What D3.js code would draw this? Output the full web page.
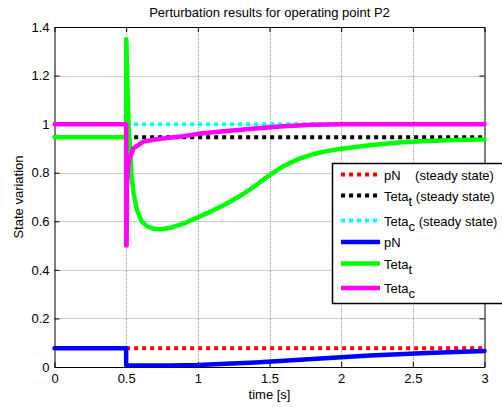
<!DOCTYPE html>
<html><head><meta charset="utf-8">
<script src="https://cdn.jsdelivr.net/npm/d3@7"></script>
<style>
html,body{margin:0;padding:0;background:#fff;}
text{font-family:"Liberation Sans",Arial,sans-serif;fill:#000;}
</style></head>
<body><svg id="c" width="502" height="407"></svg>
<script>
// ---- data ----
const title = "Perturbation results for operating point P2";
const xLabel = "time [s]";
const yLabel = "State variation";
const xTicks = [0, 0.5, 1, 1.5, 2, 2.5, 3];
const yTicks = [0, 0.2, 0.4, 0.6, 0.8, 1, 1.2, 1.4];
const xTickLabels = ["0", "0.5", "1", "1.5", "2", "2.5", "3"];
const yTickLabels = ["0", "0.2", "0.4", "0.6", "0.8", "1", "1.2", "1.4"];

// steady state values (from t = 0.5 to 3)
const steadyT = [0.5, 3];
const steadyPN = [0.077, 0.077];
const steadyTetaT = [0.946, 0.946];
const steadyTetaC = [1.0, 1.0];

// pN
const pnT = [0, 0.5, 0.5, 0.6, 0.8, 1.0, 1.2, 1.4, 1.6, 1.8, 2.0, 2.2, 2.4, 2.6, 2.8, 3.0];
const pnV = [0.077, 0.077, 0.007, 0.006, 0.006, 0.008, 0.013, 0.019, 0.026, 0.033, 0.040, 0.047, 0.053, 0.058, 0.062, 0.066];

// Teta_t
const ttT = [0, 0.5, 0.501, 0.51, 0.517, 0.529, 0.536, 0.552, 0.575, 0.61, 0.65, 0.7, 0.75, 0.8, 0.9, 1.0, 1.1, 1.2, 1.3, 1.4, 1.5, 1.6, 1.7, 1.8, 1.9, 2.0, 2.2, 2.4, 2.6, 2.8, 3.0];
const ttV = [0.946, 0.946, 1.35, 1.13, 0.99, 0.88, 0.80, 0.715, 0.646, 0.598, 0.578, 0.568, 0.567, 0.572, 0.59, 0.616, 0.643, 0.672, 0.706, 0.746, 0.79, 0.828, 0.856, 0.876, 0.889, 0.899, 0.913, 0.924, 0.931, 0.935, 0.937];

// Teta_c
const tcT = [0, 0.5, 0.5, 0.503, 0.506, 0.515, 0.529, 0.55, 0.62, 0.7, 0.8, 0.9, 1.0, 1.2, 1.4, 1.6, 1.8, 2.0, 3.0];
const tcV = [1.0, 1.0, 0.5, 0.5, 0.75, 0.84, 0.866, 0.90, 0.928, 0.937, 0.944, 0.95, 0.96, 0.972, 0.982, 0.991, 0.997, 1.0, 1.0];

const legendNames = [["pN", "", "    (steady state)"], ["Teta", "t", " (steady state)"], ["Teta", "c", " (steady state)"], ["pN", "", ""], ["Teta", "t", ""], ["Teta", "c", ""]];
const colors = ["#ff0000", "#000000", "#00ffff", "#0000ff", "#00ff00", "#ff00ff"];

// ---- drawing ----
const svg = d3.select("#c");
const L = 54.5, R = 484.5, T = 27, B = 367;
const x = d3.scaleLinear().domain([0, 3]).range([L, R]);
const y = d3.scaleLinear().domain([0, 1.4]).range([B, T]);

// grid
const g = svg.append("g");
g.selectAll(".gx").data(xTicks.slice(1, -1)).join("line")
  .attr("x1", d => Math.round(x(d)) + 0.5).attr("x2", d => Math.round(x(d)) + 0.5)
  .attr("y1", T).attr("y2", B).attr("stroke", "#999").attr("stroke-width", 1).attr("stroke-dasharray", "1,1");
g.selectAll(".gy").data(yTicks.slice(1, -1)).join("line")
  .attr("y1", d => Math.round(y(d)) + 0.5).attr("y2", d => Math.round(y(d)) + 0.5)
  .attr("x1", L).attr("x2", R).attr("stroke", "#999").attr("stroke-width", 1).attr("stroke-dasharray", "1,1");

// axes with inward ticks
const axB = d3.axisBottom(x).tickValues(xTicks).tickFormat((d, i) => xTickLabels[i]).tickSizeInner(-5).tickSizeOuter(0).tickPadding(7);
const axL = d3.axisLeft(y).tickValues(yTicks).tickFormat((d, i) => yTickLabels[i]).tickSizeInner(-5).tickSizeOuter(0).tickPadding(5);
const axT = d3.axisTop(x).tickValues(xTicks).tickFormat("").tickSizeInner(-5).tickSizeOuter(0);
const axR = d3.axisRight(y).tickValues(yTicks).tickFormat("").tickSizeInner(-5).tickSizeOuter(0);
function style(sel) {
  sel.selectAll("path").attr("stroke", "#000").attr("stroke-width", 1);
  sel.selectAll("line").attr("stroke", "#000");
  sel.selectAll("text").style("font-family", '"Liberation Sans",Arial,sans-serif').style("font-size", "13px").attr("fill", "#000");
}
svg.append("g").attr("transform", `translate(0,${B})`).call(axB).call(style);
svg.append("g").attr("transform", `translate(${L},0)`).call(axL).call(style);
svg.append("g").attr("transform", `translate(0,${T})`).call(axT).call(style);
svg.append("g").attr("transform", `translate(${R},0)`).call(axR).call(style);

// labels
svg.append("text").attr("x", (L + R) / 2).attr("y", 17).attr("text-anchor", "middle").style("font-size", "13px").text(title);
svg.append("text").attr("x", (L + R) / 2).attr("y", 399).attr("text-anchor", "middle").style("font-size", "13px").text(xLabel);
svg.append("text").attr("transform", `translate(23,${(T + B) / 2}) rotate(-90)`).attr("text-anchor", "middle").style("font-size", "13px").text(yLabel);

// series
const line = d3.line().x(d => x(d[0])).y(d => y(d[1]));
const zip = (a, b) => a.map((v, i) => [v, b[i]]);
const series = [
  { d: zip(steadyT, steadyPN), dotted: true },
  { d: zip(steadyT, steadyTetaT), dotted: true },
  { d: zip(steadyT, steadyTetaC), dotted: true },
  { d: zip(pnT, pnV), dotted: false },
  { d: zip(ttT, ttV), dotted: false },
  { d: zip(tcT, tcV), dotted: false }
];
series.forEach((s, i) => {
  svg.append("path").attr("d", line(s.d)).attr("fill", "none")
    .attr("stroke", colors[i]).attr("stroke-width", s.dotted ? 4 : 4.5)
    .attr("stroke-dasharray", s.dotted ? "4,4" : null)
    .attr("stroke-linejoin", "round").attr("stroke-linecap", s.dotted ? "butt" : "round");
});

// legend
const lg = svg.append("g");
lg.append("rect").attr("x", 332.5).attr("y", 163.5).attr("width", 175).attr("height", 140)
  .attr("fill", "#fff").attr("stroke", "#000").attr("stroke-width", 1.5);
const rowY = [174.5, 195.5, 220.5, 242, 263.5, 288];
legendNames.forEach((nm, i) => {
  const yy = rowY[i];
  lg.append("line").attr("x1", 341).attr("x2", 380).attr("y1", yy).attr("y2", yy)
    .attr("stroke", colors[i]).attr("stroke-width", i < 3 ? 4 : 4.5)
    .attr("stroke-dasharray", i < 3 ? "4,4" : null);
  const t = lg.append("text").attr("x", 384).attr("y", yy + 5).style("font-size", "13px").style("white-space", "pre").attr("xml:space", "preserve");
  t.append("tspan").text(nm[0]);
  if (nm[1]) t.append("tspan").attr("dy", 5).style("font-size", "13px").text(nm[1]);
  if (nm[2]) t.append("tspan").attr("dy", nm[1] ? -5 : 0).text(nm[2]);
});
</script></body></html>
